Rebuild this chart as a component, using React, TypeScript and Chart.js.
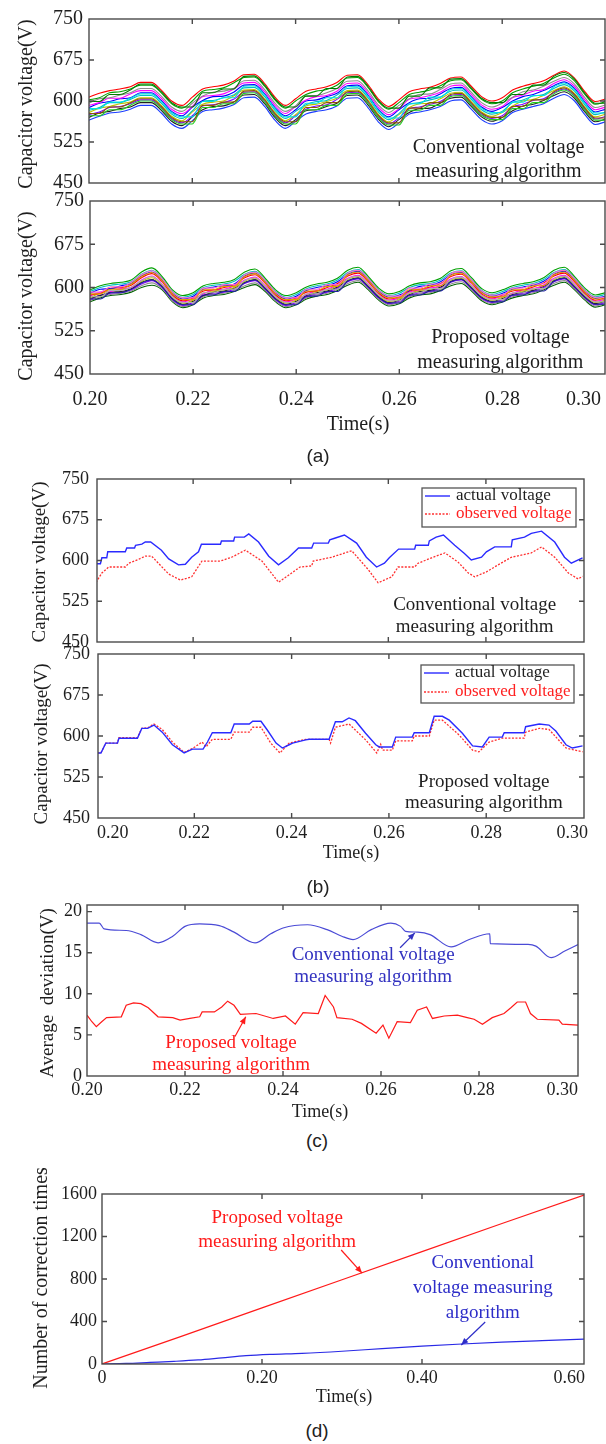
import React, { useEffect, useRef } from 'react';
import { Chart, registerables } from 'chart.js';
Chart.register(...registerables);

const SERIF = '"Liberation Serif", "Times New Roman", serif';
const SANS = '"Liberation Sans", Arial, sans-serif';
const INK = '#1e1e1e';
const FRAME = '#4a4a4a';

// ---------------- (a) ----------------
const A_TIME = [0.200,0.202,0.204,0.206,0.208,0.210,0.212,0.214,0.216,0.218,0.220,0.222,0.224,0.226,0.228,0.230,0.232,0.234,0.236,0.238,0.240,0.242,0.244,0.246,0.248,0.250,0.252,0.254,0.256,0.258,0.260,0.262,0.264,0.266,0.268,0.270,0.272,0.274,0.276,0.278,0.280,0.282,0.284,0.286,0.288,0.290,0.292,0.294,0.296,0.298,0.300];
const A_X_TICKS = [0.20, 0.22, 0.24, 0.26, 0.28, 0.30];
const A_X_LABELS = ['0.20', '0.22', '0.24', '0.26', '0.28', '0.30'];
const V_TICKS = [450, 525, 600, 675, 750];

const A_CONV_1 = [607,614,619,622,626,634,634,620,600,592,607,622,626,629,636,648,649,632,607,592,604,618,622,626,634,647,648,630,604,590,602,617,622,625,632,642,644,627,608,600,606,620,627,632,637,647,655,642,617,599,604];
const A_CONV_2 = [602,606,615,617,622,629,629,615,595,587,600,618,621,624,633,643,644,627,602,587,600,612,618,621,629,642,643,625,599,585,597,612,616,620,628,637,639,622,603,595,600,615,622,627,632,642,649,637,612,594,599];
const A_CONV_3 = [596,604,606,611,615,623,623,609,589,581,596,609,616,618,623,637,638,621,596,581,591,609,610,615,623,636,637,619,593,579,592,604,612,613,621,631,633,616,597,589,596,607,617,620,627,636,643,631,606,588,593];
const A_CONV_4 = [592,597,605,605,613,619,619,605,585,577,590,608,610,613,622,633,634,617,592,577,590,602,608,610,618,632,633,615,589,575,586,603,606,610,616,627,629,612,593,585,590,606,611,618,621,632,639,627,602,584,589];
const A_CONV_5 = [588,596,599,604,606,615,615,601,581,573,589,601,608,609,616,629,630,613,588,573,584,600,602,608,614,628,629,611,585,571,584,597,604,605,613,623,625,608,589,581,588,600,608,612,619,628,635,623,598,580,585];
const A_CONV_6 = [583,588,597,597,603,610,610,596,576,568,582,600,601,606,611,624,625,608,583,568,581,593,599,601,611,623,624,606,580,566,577,594,597,602,607,618,620,603,584,576,581,597,602,609,612,623,630,618,593,575,580];
const A_CONV_7 = [579,587,590,595,598,606,606,592,572,564,580,594,598,600,609,620,621,604,579,564,575,591,594,599,605,619,620,602,576,562,575,588,595,596,604,614,616,599,580,572,579,591,600,603,610,619,626,614,589,571,576];
const A_CONV_8 = [575,580,588,590,595,602,602,588,568,560,573,591,593,597,603,616,617,600,575,560,573,585,591,593,603,615,616,598,572,558,569,586,589,594,599,610,612,595,576,568,573,589,594,601,604,615,622,610,585,567,572];
const A_CONV_9 = [570,578,581,586,589,597,597,583,563,555,571,584,590,591,598,611,612,595,570,555,566,582,584,590,596,610,611,593,567,553,566,579,586,587,596,605,607,590,571,563,570,582,591,594,601,610,617,605,580,562,567];
const A_CONV_10 = [565,572,578,580,585,592,592,578,558,550,564,581,584,587,593,606,607,590,565,550,563,576,581,584,591,605,606,588,562,548,560,576,580,584,590,600,602,585,566,558,564,579,585,590,595,605,612,600,575,557,562];
const A_CONV_11 = [599,599,612,612,620,631,631,617,597,589,589,615,615,622,622,645,646,629,604,589,589,609,609,623,623,644,645,627,601,587,587,609,609,624,624,640,641,624,605,597,597,612,612,629,629,645,652,640,614,596,596];
const A_CONV_12 = [586,586,598,598,605,613,613,599,579,571,571,599,599,606,606,627,628,611,586,571,571,596,596,606,606,626,627,609,583,569,569,595,595,607,607,621,623,606,587,579,579,598,598,610,610,626,633,621,596,578,578];
const A_CONV_13 = [577,577,589,589,597,604,604,590,570,562,562,592,592,598,598,618,619,602,577,562,562,588,588,597,597,617,618,600,574,560,560,587,587,597,597,612,614,597,578,570,570,590,590,602,602,617,624,612,587,569,569];
const A_CONV_14 = [573,573,584,584,592,600,600,586,566,558,558,588,588,595,595,614,615,598,573,558,558,584,584,592,592,613,614,596,570,556,556,583,583,592,592,608,610,593,574,566,566,586,586,597,597,613,620,608,583,565,565];
const A_CONV_SERIES = [A_CONV_11, A_CONV_12, A_CONV_13, A_CONV_14, A_CONV_1, A_CONV_2, A_CONV_3, A_CONV_4, A_CONV_5, A_CONV_6, A_CONV_7, A_CONV_8, A_CONV_9, A_CONV_10];
const A_CONV_COLORS = ['#007a00', '#00e0e0', '#8a5a00', '#20d020', '#ff0000', '#00a000', '#8c8c8c', '#ff00ff', '#0000ff', '#00c0c0', '#c0c000', '#8000ff', '#202020', '#1a3cff'];

const A_PROP_1 = [596,603,607,609,613,627,634,619,596,586,591,603,607,609,614,627,632,616,596,586,591,601,606,609,616,630,635,619,599,589,593,603,608,610,616,629,633,617,598,591,596,603,607,610,617,630,635,619,599,587,591];
const A_PROP_2 = [593,600,604,606,610,623,630,616,593,583,588,600,604,606,611,623,628,613,593,583,588,598,603,606,613,626,631,616,596,586,590,600,605,607,613,625,629,614,595,588,593,600,604,607,614,626,631,616,596,584,588];
const A_PROP_3 = [590,597,598,603,607,620,627,613,590,580,585,597,601,603,606,620,625,610,590,580,585,595,600,603,610,623,628,613,593,583,587,595,602,604,610,622,626,611,592,585,590,597,601,604,611,623,628,613,593,581,585];
const A_PROP_4 = [587,590,598,600,604,617,624,610,587,577,582,594,596,600,605,617,622,607,587,577,582,592,594,600,607,620,625,610,590,580,584,594,597,601,607,619,623,608,589,582,587,594,596,601,608,620,625,610,590,578,582];
const A_PROP_5 = [585,592,593,598,600,613,620,606,585,575,580,589,596,597,603,613,618,603,585,575,580,588,595,597,605,616,621,606,588,578,582,592,596,599,603,615,619,604,587,580,585,590,596,598,604,616,621,606,588,576,580];
const A_PROP_6 = [583,590,594,596,600,611,617,604,583,573,578,590,594,596,600,611,616,601,583,573,578,588,593,596,603,614,619,604,586,576,580,590,595,597,603,613,617,602,585,578,583,590,594,597,604,614,619,604,586,574,578];
const A_PROP_7 = [581,586,592,593,598,609,614,602,581,571,576,586,592,594,599,609,614,599,581,571,576,586,591,594,601,612,617,602,584,574,578,588,593,595,601,611,615,600,583,576,581,588,592,595,602,612,617,602,584,572,576];
const A_PROP_8 = [579,587,590,592,596,606,612,600,579,569,574,586,590,592,597,607,612,597,579,569,574,584,589,592,599,610,615,600,582,572,576,586,591,593,599,609,613,598,581,574,579,586,590,593,600,610,615,600,582,570,574];
const A_PROP_9 = [577,584,588,590,594,603,608,598,577,567,572,584,588,590,595,603,608,595,577,567,572,582,587,590,597,607,612,598,580,570,574,584,589,591,597,606,610,596,579,572,577,584,588,591,598,607,612,598,580,568,572];
const A_PROP_10 = [575,582,586,588,592,600,604,596,575,565,570,582,586,588,593,600,605,593,575,565,570,580,585,588,595,604,609,596,578,568,572,582,587,589,595,603,607,594,577,570,575,582,586,589,596,604,609,596,578,566,570];
const A_PROP_11 = [589,589,597,597,606,619,626,612,589,579,579,596,596,602,602,619,624,609,589,579,579,594,594,602,602,622,627,612,592,582,582,596,596,603,603,621,625,610,591,584,584,596,596,603,603,622,627,612,592,580,580];
const A_PROP_12 = [584,584,595,595,601,612,619,605,584,574,574,591,591,597,597,612,617,602,584,574,574,589,589,597,597,615,620,605,587,577,577,591,591,598,598,614,618,603,586,579,579,591,591,598,598,615,620,605,587,575,575];
const A_PROP_13 = [592,592,601,601,609,622,629,615,592,582,582,599,599,605,605,622,627,612,592,582,582,597,597,605,605,625,630,615,595,585,585,599,599,606,606,624,628,613,594,587,587,599,599,606,606,625,630,615,595,583,583];
const A_PROP_14 = [580,580,591,591,597,608,613,601,580,570,570,587,587,593,593,608,613,598,580,570,570,585,585,593,593,611,616,601,583,573,573,587,587,594,594,610,614,599,582,575,575,587,587,594,594,611,616,601,583,571,571];
const A_PROP_SERIES = [A_PROP_11, A_PROP_12, A_PROP_13, A_PROP_14, A_PROP_1, A_PROP_2, A_PROP_3, A_PROP_4, A_PROP_5, A_PROP_6, A_PROP_7, A_PROP_8, A_PROP_9, A_PROP_10];
const A_PROP_COLORS = ['#e0a000', '#b0b0b0', '#ff66cc', '#2020a0', '#00a000', '#00c0c0', '#0000ff', '#ff0000', '#ff00ff', '#c0c000', '#202020', '#8000ff', '#8c8c8c', '#006400'];

// ---------------- (b) ----------------
const B_CONV_ACT_T = [0.2000,0.2010,0.2013,0.2023,0.2025,0.2061,0.2064,0.2080,0.2082,0.2095,0.2102,0.2113,0.2135,0.2150,0.2170,0.2184,0.2197,0.2211,0.2217,0.2256,0.2258,0.2283,0.2285,0.2305,0.2314,0.2334,0.2355,0.2375,0.2395,0.2416,0.2443,0.2447,0.2477,0.2480,0.2490,0.2510,0.2535,0.2555,0.2576,0.2592,0.2602,0.2621,0.2654,0.2656,0.2682,0.2684,0.2698,0.2713,0.2736,0.2756,0.2770,0.2791,0.2801,0.2818,0.2852,0.2854,0.2879,0.2893,0.2914,0.2941,0.2961,0.2975,0.2998];
const B_CONV_ACT_V = [594,594,605,605,616,616,623,623,628,630,634,634,619,603,592,593,606,616,630,630,636,636,643,643,649,634,608,592,605,623,623,632,632,638,641,647,632,606,588,595,605,621,621,628,628,636,643,647,628,613,601,606,616,625,625,638,643,650,654,634,606,595,605];
const B_CONV_OBS_T = [0.2001,0.2013,0.2027,0.2061,0.2068,0.2088,0.2102,0.2115,0.2150,0.2174,0.2197,0.2218,0.2256,0.2279,0.2307,0.2341,0.2375,0.2402,0.2419,0.2443,0.2446,0.2484,0.2525,0.2559,0.2579,0.2607,0.2620,0.2654,0.2661,0.2689,0.2716,0.2743,0.2764,0.2777,0.2801,0.2825,0.2852,0.2893,0.2914,0.2941,0.2969,0.2989,0.2998];
const B_CONV_OBS_V = [560,577,588,588,595,602,608,608,575,564,570,599,599,606,619,599,560,577,588,590,599,606,618,583,559,570,588,588,595,605,614,597,577,570,579,592,606,614,625,606,577,566,571];
const B_PROP_ACT_T = [0.2001,0.2008,0.2018,0.2042,0.2045,0.2083,0.2092,0.2104,0.2117,0.2134,0.2155,0.2179,0.2196,0.2218,0.2227,0.2237,0.2275,0.2282,0.2313,0.2320,0.2337,0.2350,0.2368,0.2381,0.2395,0.2402,0.2429,0.2436,0.2477,0.2490,0.2504,0.2518,0.2531,0.2552,0.2573,0.2580,0.2607,0.2614,0.2648,0.2652,0.2683,0.2693,0.2710,0.2724,0.2751,0.2772,0.2792,0.2806,0.2833,0.2837,0.2878,0.2881,0.2909,0.2929,0.2943,0.2964,0.2977,0.2998];
const B_PROP_ACT_V = [569,569,587,587,596,596,614,614,620,607,584,569,576,576,589,606,606,622,622,627,627,611,587,578,584,587,593,594,594,626,626,633,628,605,584,580,580,598,598,606,606,636,636,629,605,582,580,598,598,606,606,617,622,620,609,584,578,582];
const B_PROP_OBS_T = [0.2001,0.2008,0.2018,0.2042,0.2045,0.2083,0.2092,0.2104,0.2117,0.2134,0.2155,0.2179,0.2196,0.2216,0.2224,0.2237,0.2275,0.2282,0.2313,0.2320,0.2337,0.2357,0.2376,0.2395,0.2429,0.2477,0.2480,0.2490,0.2518,0.2552,0.2575,0.2583,0.2587,0.2607,0.2614,0.2648,0.2652,0.2683,0.2693,0.2710,0.2744,0.2772,0.2785,0.2806,0.2833,0.2878,0.2881,0.2909,0.2929,0.2964,0.2998];
const B_PROP_OBS_V = [569,569,587,587,597,597,614,615,622,612,589,570,577,589,580,594,594,607,607,616,616,587,569,587,594,594,587,616,622,593,569,585,574,574,591,591,600,600,629,629,602,574,571,589,596,596,607,614,612,578,571];
const B_LEGEND_LABELS = ['actual voltage', 'observed voltage'];

// ---------------- (c) ----------------
const C_T_CONV = [0.2000,0.2025,0.2035,0.2080,0.2110,0.2145,0.2175,0.2200,0.2230,0.2270,0.2300,0.2343,0.2375,0.2400,0.2450,0.2490,0.2520,0.2543,0.2580,0.2620,0.2640,0.2650,0.2675,0.2700,0.2743,0.2780,0.2822,0.2823,0.2900,0.2916,0.2947,0.2975,0.3002];
const C_V_CONV = [18.6,18.6,17.9,17.7,17.2,16.2,17.0,18.2,18.5,18.3,17.5,16.2,17.3,18.0,18.4,17.8,17.0,16.6,17.8,18.6,18.2,17.6,17.5,17.2,15.7,16.6,17.3,16.1,16.0,15.8,14.4,15.2,16.0];
const C_T_PROP = [0.2000,0.2010,0.2019,0.2030,0.2040,0.2070,0.2080,0.2095,0.2110,0.2125,0.2145,0.2175,0.2190,0.2210,0.2230,0.2235,0.2260,0.2275,0.2287,0.2300,0.2313,0.2345,0.2380,0.2405,0.2425,0.2441,0.2472,0.2486,0.2503,0.2510,0.2541,0.2560,0.2590,0.2604,0.2616,0.2633,0.2660,0.2674,0.2693,0.2705,0.2729,0.2756,0.2776,0.2790,0.2807,0.2827,0.2851,0.2865,0.2878,0.2895,0.2905,0.2919,0.2963,0.2970,0.3002];
const C_V_PROP = [7.4,6.6,6.0,6.6,7.1,7.2,8.6,8.9,8.8,8.3,7.2,7.1,6.8,7.0,7.2,7.8,7.8,8.4,9.1,8.6,7.5,7.6,7.0,7.3,6.3,7.7,7.6,9.8,8.4,7.1,6.9,6.4,5.2,6.2,4.6,6.6,6.5,8.0,8.4,7.0,7.3,7.4,7.1,6.9,6.3,7.1,7.6,8.3,9.0,9.0,7.6,6.9,6.8,6.3,6.2];
const C_Y_TICKS = [0, 5, 10, 15, 20];

// ---------------- (d) ----------------
const D_T_PROP = [0, 0.1, 0.2, 0.3, 0.4, 0.5, 0.6025];
const D_V_PROP = [0, 262, 528, 793, 1058, 1322, 1590];
const D_T_CONV = [0, 0.03, 0.06, 0.09, 0.12, 0.15, 0.18, 0.21, 0.25, 0.30, 0.35, 0.40, 0.45, 0.50, 0.55, 0.6025];
const D_V_CONV = [0, 5, 15, 25, 38, 58, 78, 90, 100, 120, 145, 168, 188, 205, 220, 235];
const D_X_TICKS = [0, 0.2, 0.4, 0.6];
const D_X_LABELS = ['0', '0.20', '0.40', '0.60'];
const D_Y_TICKS = [0, 400, 800, 1200, 1600];

// ---------------- helpers ----------------
const pts = (ts: number[], vs: number[]) => ts.map((t, i) => ({ x: t, y: vs[i] }));
const f = (px: number, fam = SERIF) => `${px}px ${fam}`;

const B_BLUE = '#2a2aff';
const B_RED = '#ff3030';
const C_BLUE_LINE = '#4b4bd6';
const C_BLUE_TEXT = '#3232c0';
const RED = '#ff1a1a';
const D_BLUE_LINE = '#2a2ae6';
const D_BLUE_TEXT = '#2d2dc8';

const decor = {
  id: 'decor',
  afterDatasetsDraw(chart: any, _args: any, o: any) {
    const { ctx, chartArea: a } = chart;
    const xs = chart.scales.x;
    const ys = chart.scales.y;
    const oy = o.offsetTop;
    ctx.save();
    if (o.legend) {
      const L = o.legend;
      const [x1, y1, x2, y2] = L.box;
      ctx.fillStyle = '#fff';
      ctx.fillRect(x1, y1 - oy, x2 - x1, y2 - y1);
      ctx.strokeStyle = '#555';
      ctx.lineWidth = 1.3;
      ctx.strokeRect(x1, y1 - oy, x2 - x1, y2 - y1);
      L.items.forEach((it: any, i: number) => {
        const yy = L.rows[i] - oy;
        ctx.strokeStyle = it.color;
        ctx.lineWidth = it.width;
        ctx.setLineDash(it.dash);
        ctx.beginPath();
        ctx.moveTo(L.lineX[0], yy);
        ctx.lineTo(L.lineX[1], yy);
        ctx.stroke();
        ctx.setLineDash([]);
        ctx.font = L.font;
        ctx.fillStyle = it.textColor;
        ctx.textAlign = 'left';
        ctx.textBaseline = 'middle';
        ctx.fillText(it.label, L.textX, yy);
      });
    }
    ctx.setLineDash([]);
    ctx.strokeStyle = FRAME;
    ctx.lineWidth = 1.4;
    ctx.strokeRect(a.left, a.top, a.right - a.left, a.bottom - a.top);
    ctx.beginPath();
    for (const v of o.xTicks) {
      const px = xs.getPixelForValue(v);
      if (px < a.left + 3 || px > a.right - 3) continue;
      ctx.moveTo(px, a.bottom);
      ctx.lineTo(px, a.bottom - 5);
      ctx.moveTo(px, a.top);
      ctx.lineTo(px, a.top + 5);
    }
    for (const v of o.yTicks) {
      const py = ys.getPixelForValue(v);
      if (py < a.top + 3 || py > a.bottom - 3) continue;
      ctx.moveTo(a.left, py);
      ctx.lineTo(a.left + 5, py);
      ctx.moveTo(a.right, py);
      ctx.lineTo(a.right - 5, py);
    }
    ctx.stroke();
    if (o.xLabels) {
      ctx.font = o.xLabelFont;
      ctx.fillStyle = INK;
      ctx.textAlign = 'left';
      ctx.textBaseline = 'middle';
      o.xTicks.forEach((v: number, i: number) => {
        const label = o.xLabels[i];
        const w = ctx.measureText(label).width;
        let left = xs.getPixelForValue(v) - w / 2;
        left = Math.max(left, o.xLabelMinLeft);
        left = Math.min(left, o.xLabelMaxRight - w);
        ctx.fillText(label, left, o.xLabelY - oy);
      });
    }
    for (const t of o.texts) {
      ctx.font = t.font;
      ctx.fillStyle = t.color || INK;
      ctx.textAlign = 'center';
      ctx.textBaseline = 'middle';
      if (t.rotate) {
        ctx.save();
        ctx.translate(t.x, t.y - oy);
        ctx.rotate(-Math.PI / 2);
        ctx.fillText(t.text, 0, 0);
        ctx.restore();
      } else {
        ctx.fillText(t.text, t.x, t.y - oy);
      }
    }
    for (const t of o.notes || []) {
      ctx.font = t.font;
      ctx.fillStyle = t.color || INK;
      ctx.textAlign = 'center';
      ctx.textBaseline = 'middle';
      ctx.fillText(t.text, xs.getPixelForValue(t.x), ys.getPixelForValue(t.y));
    }
    for (const ar of o.arrows || []) {
      const x1 = xs.getPixelForValue(ar.from[0]);
      const y1 = ys.getPixelForValue(ar.from[1]);
      const x2 = xs.getPixelForValue(ar.to[0]);
      const y2 = ys.getPixelForValue(ar.to[1]);
      ctx.strokeStyle = ar.color;
      ctx.fillStyle = ar.color;
      ctx.lineWidth = 1.2;
      ctx.beginPath();
      ctx.moveTo(x1, y1);
      ctx.lineTo(x2, y2);
      ctx.stroke();
      const ang = Math.atan2(y2 - y1, x2 - x1);
      const hl = 7, hw = 3;
      ctx.beginPath();
      ctx.moveTo(x2, y2);
      ctx.lineTo(x2 - hl * Math.cos(ang) + hw * Math.sin(ang), y2 - hl * Math.sin(ang) - hw * Math.cos(ang));
      ctx.lineTo(x2 - hl * Math.cos(ang) - hw * Math.sin(ang), y2 - hl * Math.sin(ang) + hw * Math.cos(ang));
      ctx.closePath();
      ctx.fill();
    }
    ctx.restore();
  },
};

type Spec = any;

const SPECS: Spec[] = [
  {
    top: 0, height: 200, area: { l: 89, t: 19, r: 605, b: 183 },
    xMin: 0.2, xMax: 0.2999, xTicks: A_X_TICKS, xLabels: null,
    yMin: 450, yMax: 750, yTicks: V_TICKS, yFont: 20, yPad: 6,
    datasets: A_CONV_SERIES.map((v, i) => ({ data: pts(A_TIME, v), borderColor: A_CONV_COLORS[i], borderWidth: 1.1, cubicInterpolationMode: 'monotone' })),
    texts: [{ text: 'Capacitor voltage(V)', x: 27, y: 104, font: f(20), rotate: true }],
    notes: [
      { text: 'Conventional voltage', x: 0.2793, y: 514, font: f(20) },
      { text: 'measuring algorithm', x: 0.2793, y: 470, font: f(20) },
    ],
  },
  {
    top: 188, height: 262, area: { l: 90, t: 201, r: 605, b: 374 },
    xMin: 0.2, xMax: 0.2999, xTicks: A_X_TICKS, xLabels: A_X_LABELS, xLabelY: 400, xLabelFont: f(20), xLabelMinLeft: 0, xLabelMaxRight: 601,
    yMin: 450, yMax: 750, yTicks: V_TICKS, yFont: 20, yPad: 6,
    datasets: A_PROP_SERIES.map((v, i) => ({ data: pts(A_TIME, v), borderColor: A_PROP_COLORS[i], borderWidth: 1.1, cubicInterpolationMode: 'monotone' })),
    texts: [
      { text: 'Capacitor voltage(V)', x: 27, y: 296, font: f(20), rotate: true },
      { text: 'Time(s)', x: 358, y: 425, font: f(20) },
    ],
    notes: [
      { text: 'Proposed voltage', x: 0.2796, y: 512, font: f(20) },
      { text: 'measuring algorithm', x: 0.2796, y: 469, font: f(20) },
    ],
  },
  {
    top: 466, height: 184, area: { l: 97, t: 479, r: 584, b: 642 },
    xMin: 0.2003, xMax: 0.3001, xTicks: A_X_TICKS, xLabels: null,
    yMin: 450, yMax: 750, yTicks: V_TICKS, yFont: 18, yPad: 8,
    datasets: [
      { data: pts(B_CONV_ACT_T, B_CONV_ACT_V), borderColor: B_BLUE, borderWidth: 1.4 },
      { data: pts(B_CONV_OBS_T, B_CONV_OBS_V), borderColor: B_RED, borderWidth: 1.3, borderDash: [2, 1.5] },
    ],
    texts: [{ text: 'Capacitor voltage(V)', x: 40, y: 562, font: f(19), rotate: true }],
    notes: [
      { text: 'Conventional voltage', x: 0.2777, y: 518, font: f(19) },
      { text: 'measuring algorithm', x: 0.2777, y: 477, font: f(19) },
    ],
    legend: {
      box: [422, 488, 576, 527], lineX: [425, 450], textX: 456, rows: [496, 514], font: f(17),
      items: [
        { label: B_LEGEND_LABELS[0], color: B_BLUE, width: 1.4, dash: [], textColor: INK },
        { label: B_LEGEND_LABELS[1], color: B_RED, width: 1.3, dash: [2, 1.5], textColor: '#ff2020' },
      ],
    },
  },
  {
    top: 641, height: 230, area: { l: 98, t: 654, r: 584, b: 818 },
    xMin: 0.2002, xMax: 0.3001, xTicks: A_X_TICKS, xLabels: A_X_LABELS, xLabelY: 833, xLabelFont: f(18), xLabelMinLeft: 97, xLabelMaxRight: 588,
    yMin: 450, yMax: 750, yTicks: V_TICKS, yFont: 18, yPad: 8,
    datasets: [
      { data: pts(B_PROP_ACT_T, B_PROP_ACT_V), borderColor: B_BLUE, borderWidth: 1.4 },
      { data: pts(B_PROP_OBS_T, B_PROP_OBS_V), borderColor: B_RED, borderWidth: 1.3, borderDash: [2, 1.5] },
    ],
    texts: [
      { text: 'Capacitor voltage(V)', x: 42, y: 744, font: f(19), rotate: true },
      { text: 'Time(s)', x: 351, y: 853, font: f(18) },
    ],
    notes: [
      { text: 'Proposed voltage', x: 0.2795, y: 516, font: f(19) },
      { text: 'measuring algorithm', x: 0.2795, y: 477.5, font: f(19) },
    ],
    legend: {
      box: [421, 665, 574, 703], lineX: [424, 449], textX: 455, rows: [673, 692], font: f(17),
      items: [
        { label: B_LEGEND_LABELS[0], color: B_BLUE, width: 1.4, dash: [], textColor: INK },
        { label: B_LEGEND_LABELS[1], color: B_RED, width: 1.3, dash: [2, 1.5], textColor: '#ff2020' },
      ],
    },
  },
  {
    top: 885, height: 240, area: { l: 87, t: 905, r: 578, b: 1076 },
    xMin: 0.2, xMax: 0.3002, xTicks: A_X_TICKS, xLabels: A_X_LABELS, xLabelY: 1090, xLabelFont: f(18), xLabelMinLeft: 0, xLabelMaxRight: 578,
    yMin: 0, yMax: 20.8, yTicks: C_Y_TICKS, yFont: 18, yPad: 5,
    datasets: [
      { data: pts(C_T_CONV, C_V_CONV), borderColor: C_BLUE_LINE, borderWidth: 1.2, cubicInterpolationMode: 'monotone' },
      { data: pts(C_T_PROP, C_V_PROP), borderColor: RED, borderWidth: 1.2 },
    ],
    texts: [
      { text: 'Average  deviation(V)', x: 48, y: 993, font: f(19), rotate: true },
      { text: 'Time(s)', x: 320, y: 1112, font: f(18) },
    ],
    notes: [
      { text: 'Conventional voltage', x: 0.2584, y: 14.76, font: f(19), color: C_BLUE_TEXT },
      { text: 'measuring algorithm', x: 0.2584, y: 12.07, font: f(19), color: C_BLUE_TEXT },
      { text: 'Proposed voltage', x: 0.2294, y: 4.02, font: f(19), color: RED },
      { text: 'measuring algorithm', x: 0.2294, y: 1.34, font: f(19), color: RED },
    ],
    arrows: [
      { from: [0.2302, 4.8], to: [0.2324, 7.2], color: RED },
      { from: [0.2639, 15.6], to: [0.2669, 17.4], color: C_BLUE_TEXT },
    ],
  },
  {
    top: 1165, height: 250, area: { l: 102, t: 1194, r: 584, b: 1364 },
    xMin: 0, xMax: 0.6025, xTicks: D_X_TICKS, xLabels: D_X_LABELS, xLabelY: 1378, xLabelFont: f(18), xLabelMinLeft: 0, xLabelMaxRight: 585,
    yMin: 0, yMax: 1600, yTicks: D_Y_TICKS, yFont: 18, yPad: 5,
    datasets: [
      { data: pts(D_T_PROP, D_V_PROP), borderColor: RED, borderWidth: 1.2 },
      { data: pts(D_T_CONV, D_V_CONV), borderColor: D_BLUE_LINE, borderWidth: 1.2, cubicInterpolationMode: 'monotone' },
    ],
    texts: [
      { text: 'Number of correction times', x: 42, y: 1278, font: f(20), rotate: true },
      { text: 'Time(s)', x: 344, y: 1397, font: f(18) },
    ],
    notes: [
      { text: 'Proposed voltage', x: 0.219, y: 1374, font: f(19), color: RED },
      { text: 'measuring algorithm', x: 0.219, y: 1148, font: f(19), color: RED },
      { text: 'Conventional', x: 0.476, y: 951, font: f(19), color: D_BLUE_TEXT },
      { text: 'voltage measuring', x: 0.476, y: 715, font: f(19), color: D_BLUE_TEXT },
      { text: 'algorithm', x: 0.476, y: 480, font: f(19), color: D_BLUE_TEXT },
    ],
    arrows: [
      { from: [0.299, 1073], to: [0.325, 856], color: RED },
      { from: [0.479, 395], to: [0.449, 179], color: D_BLUE_TEXT },
    ],
  },
];

const PANEL_TAGS = [
  { text: '(a)', x: 318, y: 457 },
  { text: '(b)', x: 318, y: 888 },
  { text: '(c)', x: 317, y: 1142 },
  { text: '(d)', x: 317, y: 1432 },
];

function buildConfig(s: Spec): any {
  return {
    type: 'line',
    data: { datasets: s.datasets.map((d: any) => ({ pointRadius: 0, fill: false, ...d })) },
    options: {
      responsive: false,
      animation: false,
      devicePixelRatio: 1,
      events: [],
      layout: {
        padding: { left: 0, top: s.area.t - s.top, right: 606 - s.area.r, bottom: s.top + s.height - s.area.b },
      },
      plugins: {
        legend: { display: false },
        tooltip: { enabled: false },
        decor: {
          offsetTop: s.top,
          xTicks: s.xTicks,
          xLabels: s.xLabels,
          xLabelY: s.xLabelY,
          xLabelFont: s.xLabelFont,
          xLabelMinLeft: s.xLabelMinLeft,
          xLabelMaxRight: s.xLabelMaxRight,
          yTicks: s.yTicks,
          texts: s.texts,
          notes: s.notes,
          arrows: s.arrows,
          legend: s.legend,
        },
      },
      scales: {
        x: { type: 'linear', display: false, min: s.xMin, max: s.xMax },
        y: {
          type: 'linear',
          position: 'left',
          min: s.yMin,
          max: s.yMax,
          afterBuildTicks: (sc: any) => { sc.ticks = s.yTicks.map((v: number) => ({ value: v })); },
          afterFit: (sc: any) => { sc.width = s.area.l; sc.paddingTop = 0; sc.paddingBottom = 0; },
          grid: { display: false, drawTicks: false },
          border: { display: false },
          ticks: {
            autoSkip: false,
            padding: s.yPad,
            color: INK,
            font: { family: SERIF, size: s.yFont },
            callback: (v: any) => String(v),
          },
        },
      },
    },
    plugins: [decor],
  };
}

export default function App() {
  const refs = useRef<(HTMLCanvasElement | null)[]>([]);
  useEffect(() => {
    const charts = SPECS.map((s, i) => new Chart(refs.current[i] as HTMLCanvasElement, buildConfig(s)));
    return () => charts.forEach((c) => c.destroy());
  }, []);
  return (
    <div style={{ position: 'absolute', left: 0, top: 0, width: 606, height: 1444, overflow: 'hidden', background: '#fff' }}>
      {SPECS.map((s, i) => (
        <canvas
          key={i}
          ref={(el) => { refs.current[i] = el; }}
          width={606}
          height={s.height}
          style={{ position: 'absolute', left: 0, top: s.top, width: 606, height: s.height }}
        />
      ))}
      {PANEL_TAGS.map((p) => (
        <div
          key={p.text}
          style={{ position: 'absolute', left: p.x - 25, top: p.y - 12, width: 50, height: 24, lineHeight: '24px', textAlign: 'center', font: `19px ${SANS}`, color: '#222' }}
        >
          {p.text}
        </div>
      ))}
    </div>
  );
}
